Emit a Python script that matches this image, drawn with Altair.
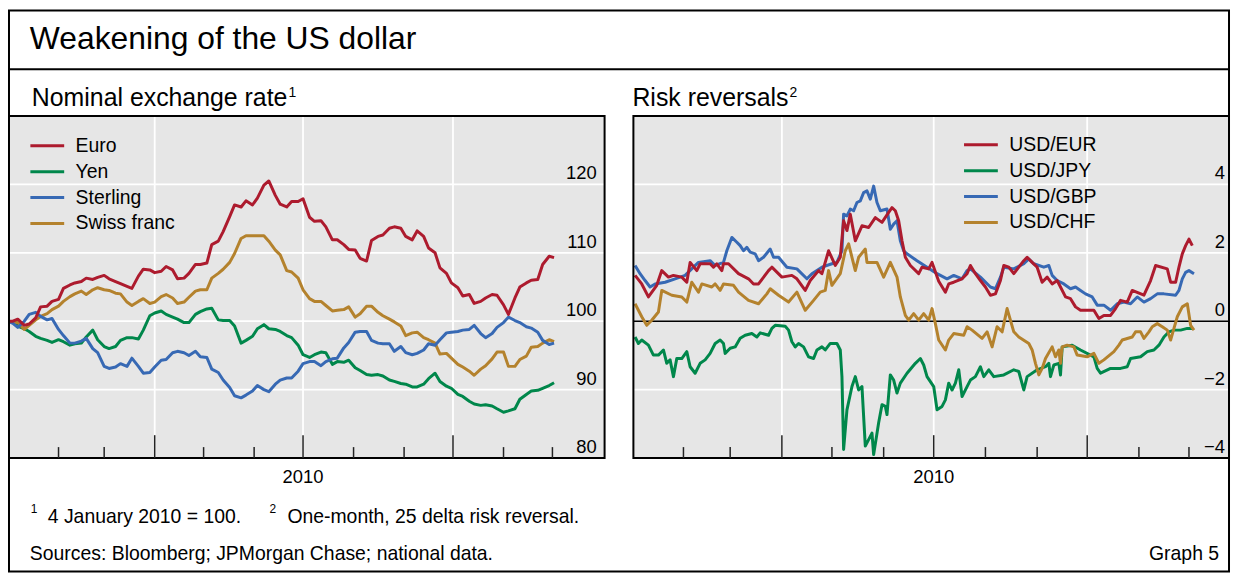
import altair as alt
import pandas as pd

# ======================= texts =======================
title_text = "Weakening of the US dollar"
left_title = "Nominal exchange rate"
right_title = "Risk reversals"
note1_mark = "1"
note1_text = "4 January 2010 = 100."
note2_mark = "2"
note2_text = "One-month, 25 delta risk reversal."
sources_text = "Sources: Bloomberg; JPMorgan Chase; national data."
graph_no = "Graph 5"

# ======================= categories / colours =======================
nominal_series = ["Euro", "Yen", "Sterling", "Swiss franc"]
risk_series = ["USD/EUR", "USD/JPY", "USD/GBP", "USD/CHF"]
series_colours = ["#ad1b2e", "#00874b", "#3769b4", "#b4822d"]

# ======================= axes =======================
nominal_ticks = [80, 90, 100, 110, 120]
nominal_grid = [90, 100, 110, 120]
risk_ticks = [-4, -2, 0, 2, 4]
risk_grid = [-2, 2, 4]
month_ticks = ["2010-02-01", "2010-03-01", "2010-05-01", "2010-06-01",
               "2010-08-01", "2010-09-01", "2010-11-01", "2010-12-01"]
quarter_ticks = ["2010-04-01", "2010-07-01", "2010-10-01"]
year_label_date = "2010-07-01"

# ======================= nominal exchange rates (4 Jan 2010 = 100) =======================
nominal_dates = [
    "2010-01-01", "2010-01-04", "2010-01-07", "2010-01-11", "2010-01-14", "2010-01-18",
    "2010-01-21", "2010-01-25", "2010-01-28",
    "2010-02-01", "2010-02-04", "2010-02-08", "2010-02-11", "2010-02-15", "2010-02-18",
    "2010-02-22", "2010-02-25",
    "2010-03-01", "2010-03-04", "2010-03-08", "2010-03-11", "2010-03-15", "2010-03-18",
    "2010-03-22", "2010-03-25", "2010-03-29",
    "2010-04-01", "2010-04-05", "2010-04-08", "2010-04-12", "2010-04-15", "2010-04-19",
    "2010-04-22", "2010-04-26", "2010-04-29",
    "2010-05-03", "2010-05-06", "2010-05-10", "2010-05-13", "2010-05-17", "2010-05-20",
    "2010-05-24", "2010-05-27", "2010-05-31",
    "2010-06-03", "2010-06-07", "2010-06-10", "2010-06-14", "2010-06-17", "2010-06-21",
    "2010-06-24", "2010-06-28",
    "2010-07-01", "2010-07-05", "2010-07-08", "2010-07-12", "2010-07-15", "2010-07-19",
    "2010-07-22", "2010-07-26", "2010-07-29",
    "2010-08-02", "2010-08-05", "2010-08-09", "2010-08-12", "2010-08-16", "2010-08-19",
    "2010-08-23", "2010-08-26", "2010-08-30",
    "2010-09-02", "2010-09-06", "2010-09-09", "2010-09-13", "2010-09-16", "2010-09-20",
    "2010-09-23", "2010-09-27", "2010-09-30",
    "2010-10-04", "2010-10-07", "2010-10-11", "2010-10-14", "2010-10-18", "2010-10-21",
    "2010-10-25", "2010-10-28",
    "2010-11-01", "2010-11-04", "2010-11-08", "2010-11-11", "2010-11-15", "2010-11-18",
    "2010-11-22", "2010-11-25", "2010-11-29",
    "2010-12-02"]
euro = [100.0, 100.0, 100.3, 99.4, 99.6, 100.5, 102.1, 102.2, 102.9,
        103.2, 104.8, 105.3, 105.6, 105.8, 106.3, 106.1, 106.4,
        106.7, 106.2, 105.8, 105.5, 105.1, 104.8, 106.6, 107.6, 107.5,
        107.1, 107.3, 108.0, 107.5, 106.2, 106.3, 107.0, 108.3, 108.3,
        108.5, 111.2, 111.7, 113.1, 115.3, 117.0, 116.7, 117.6, 117.0,
        118.0, 119.9, 120.5, 118.4, 117.1, 116.7, 117.5, 117.5,
        117.9, 115.2, 114.6, 114.7, 113.8, 111.9, 111.9, 111.2, 110.5,
        110.4, 109.2, 108.8, 111.8, 112.4, 112.6, 113.6, 113.8, 113.6,
        112.4, 111.9, 113.2, 112.4, 110.7, 110.0, 107.8, 107.0, 105.6,
        104.9, 103.7, 103.9, 102.6, 102.9, 103.4, 103.9, 103.8,
        102.4, 101.0, 103.4, 105.0, 105.6, 106.0, 106.1, 108.3, 109.5,
        109.3]
yen = [100.0, 99.9, 99.3, 98.9, 98.5, 97.8, 97.5, 97.2, 96.9,
       97.3, 97.0, 96.5, 96.7, 96.8, 97.7, 98.7, 97.3,
       96.3, 96.0, 96.3, 97.2, 97.6, 97.6, 97.4, 98.7, 100.8,
       101.2, 101.5, 101.0, 100.6, 100.3, 99.8, 99.8, 101.0, 101.4,
       101.8, 101.9, 100.2, 100.1, 100.1, 99.3, 96.8, 97.2, 97.8,
       98.9, 99.5, 98.9, 98.8, 98.5, 97.9, 97.6, 96.5,
       95.1, 94.7, 95.1, 95.5, 95.4, 93.7, 94.1, 94.0, 94.3,
       93.2, 92.8, 92.2, 92.1, 92.2, 92.0, 91.4, 91.2, 90.9,
       90.8, 90.4, 90.4, 90.8, 91.6, 92.4, 91.2, 90.5, 90.2,
       89.3, 89.0, 88.3, 87.9, 87.7, 87.8, 87.6, 87.2,
       86.7, 86.9, 87.2, 88.6, 89.3, 89.8, 89.9, 90.2, 90.6,
       91.0]
sterling = [100.0, 99.7, 99.1, 100.0, 101.0, 101.3, 100.7, 100.2, 100.4,
            98.8, 97.9, 96.8, 96.8, 97.1, 97.5, 96.0, 95.4,
            93.4, 93.1, 93.3, 93.8, 93.4, 94.6, 93.4, 92.4, 92.5,
            93.3, 94.3, 94.4, 95.4, 95.6, 95.4, 95.0, 95.6, 94.8,
            94.7, 93.0, 92.5, 91.4, 90.3, 89.1, 88.8, 89.2, 89.8,
            90.6, 90.0, 89.7, 90.8, 91.4, 91.7, 91.7, 92.7,
            93.8, 94.1, 94.1, 93.5, 94.1, 94.5, 94.6, 96.1, 96.9,
            98.4, 98.5, 98.5, 97.2, 96.8, 96.7, 96.7, 95.6, 96.3,
            95.4, 95.1, 95.3, 95.8, 96.7, 96.5, 97.3, 98.3, 98.4,
            98.5, 98.7, 98.8, 99.4, 98.2, 97.6, 98.2, 99.1,
            99.8, 100.6, 100.1, 99.8, 99.2, 99.0, 98.4, 97.2, 96.6,
            96.8]
swiss_franc = [100.0, 99.8, 99.8, 98.8, 99.4, 100.2, 100.7, 101.1, 101.7,
               102.2, 102.9, 103.6, 104.0, 104.4, 103.9, 104.6, 104.9,
               104.6, 104.5, 104.1, 104.0, 102.8, 102.3, 102.9, 103.3, 102.6,
               102.8, 103.6, 103.9, 103.4, 102.6, 102.8, 103.5, 104.4, 104.6,
               104.6, 106.3, 107.0, 107.6, 108.6, 109.9, 112.1, 112.5, 112.5,
               112.5, 112.5, 111.7, 110.4, 109.7, 107.4, 107.2, 106.3,
               104.6, 103.3, 102.9, 102.9, 102.3, 101.5, 101.6, 101.7, 102.1,
               100.6, 101.1, 102.2, 102.2, 101.3, 100.8, 100.3, 99.9, 99.3,
               97.9, 98.3, 98.4, 97.6, 97.3, 96.8, 95.2, 95.3, 94.6,
               93.7, 93.3, 92.7, 92.1, 93.0, 93.5, 94.5, 95.5,
               95.5, 93.4, 93.4, 94.4, 94.9, 96.2, 96.3, 96.8, 97.3,
               97.0]

# ======================= risk reversals (day = days after 1 Jan 2010) =======================
usd_eur_day = [2, 6, 10, 15, 18, 22, 25, 30, 33, 35,
               39, 41, 47, 49, 51, 54, 55, 58, 64, 70,
               73, 76, 82, 84, 90, 96, 99, 104, 107, 112,
               114, 118, 122, 125, 127, 129, 131, 134, 138, 142,
               146, 150, 154, 156, 158, 160, 162, 164, 167, 172,
               174, 178, 180, 184, 188, 190, 193, 198, 201, 203,
               206, 209, 212, 215, 218, 221, 223, 226, 229, 232,
               235, 237, 240, 243, 246, 249, 252, 255, 260, 263,
               266, 269, 273, 277, 280, 283, 287, 290, 293, 297,
               300, 307, 311, 314, 321, 323, 326, 328, 330, 332,
               334, 336]
usd_eur = [1.34, 1.09, 0.71, 1.05, 1.48, 1.29, 1.34, 1.29, 1.14, 1.72,
           1.48, 1.68, 1.68, 1.58, 1.68, 1.48, 1.68, 1.68, 1.39, 1.24,
           1.09, 1.09, 1.48, 1.58, 1.29, 1.34, 1.24, 0.90, 1.19, 1.48,
           1.39, 2.06, 1.63, 1.87, 2.94, 2.65, 3.13, 2.35, 2.79, 2.74,
           3.03, 2.89, 3.18, 3.32, 3.23, 2.94, 2.35, 1.87, 1.63, 1.39,
           1.58, 1.53, 1.72, 1.17, 0.85, 1.09, 1.14, 1.24, 1.39, 1.63,
           1.39, 1.19, 1.00, 0.76, 0.80, 1.19, 1.63, 1.58, 1.39, 1.58,
           1.77, 1.87, 1.72, 1.58, 1.14, 1.29, 1.09, 1.19, 0.71, 0.66,
           0.42, 0.32, 0.32, 0.32, 0.08, 0.17, 0.17, 0.37, 0.61, 0.56,
           0.90, 0.76, 1.19, 1.63, 1.53, 1.14, 1.14, 1.58, 1.97, 2.21,
           2.40, 2.21]

usd_gbp_day = [2, 5, 8, 11, 14, 20, 26, 32, 37, 40,
               47, 50, 55, 57, 60, 63, 65, 67, 69, 71,
               74, 76, 79, 83, 85, 88, 93, 99, 105, 108,
               114, 120, 123, 126, 127, 129, 131, 133, 135, 137,
               139, 141, 143, 145, 147, 149, 153, 155, 157, 159,
               161, 163, 165, 171, 177, 183, 189, 193, 198, 201,
               203, 209, 215, 218, 221, 223, 229, 235, 238, 241,
               247, 250, 252, 255, 259, 263, 266, 269, 272, 276,
               279, 283, 287, 291, 295, 299, 303, 307, 311, 315,
               319, 326, 328, 330, 332, 334, 337]
usd_gbp = [1.63, 1.39, 1.19, 1.00, 1.09, 1.14, 1.24, 1.34, 1.58, 1.72,
           1.77, 1.63, 1.72, 2.06, 2.45, 2.31, 2.21, 2.06, 2.16, 2.02,
           1.97, 1.77, 1.87, 2.11, 1.87, 1.87, 1.58, 1.53, 1.24, 1.39,
           1.58, 1.68, 1.72, 2.06, 3.13, 3.08, 3.28, 3.23, 3.47, 3.52,
           3.76, 3.81, 3.57, 3.95, 3.47, 3.23, 3.28, 2.69, 2.84, 2.94,
           2.35, 2.06, 1.97, 1.77, 1.58, 1.39, 1.24, 1.34, 1.24, 1.48,
           1.53, 1.29, 1.00, 0.95, 1.29, 1.58, 1.53, 1.68, 1.82, 1.68,
           1.58, 1.63, 1.34, 1.19, 1.09, 0.95, 1.00, 0.90, 0.80, 0.71,
           0.47, 0.47, 0.32, 0.51, 0.56, 0.51, 0.71, 0.56, 0.66, 0.80,
           0.80, 0.76, 0.90, 1.24, 1.43, 1.48, 1.39]

usd_chf_day = [2, 6, 9, 12, 16, 18, 24, 30, 33, 36,
               40, 42, 48, 50, 53, 55, 61, 64, 70, 76,
               81, 83, 88, 94, 99, 104, 109, 113, 116, 118,
               120, 125, 128, 130, 132, 134, 136, 140, 141, 147,
               151, 155, 159, 161, 164, 166, 169, 172, 175, 178,
               180, 182, 184, 188, 190, 193, 199, 201, 204, 210,
               213, 216, 219, 222, 225, 229, 232, 238, 240, 242,
               244, 246, 248, 252, 254, 256, 257, 258, 261, 265,
               267, 273, 277, 280, 283, 289, 292, 294, 300, 302,
               305, 307, 310, 312, 315, 318, 321, 323, 325, 327,
               330, 333, 335, 337]
usd_chf = [0.51, 0.13, -0.12, 0.03, 0.27, 0.90, 0.76, 0.71, 0.56, 1.14,
           0.85, 1.09, 1.00, 1.09, 0.90, 1.09, 1.05, 0.85, 0.61, 0.51,
           0.80, 0.95, 0.76, 0.56, 0.85, 0.32, 0.61, 0.85, 0.90, 1.48,
           1.05, 1.39, 2.06, 2.26, 1.87, 1.48, 1.87, 2.11, 1.72, 1.72,
           1.29, 1.72, 1.29, 0.71, 0.17, 0.03, 0.22, 0.03, 0.22, 0.03,
           0.37, -0.07, -0.55, -0.84, -0.55, -0.36, -0.41, -0.16, -0.26, -0.50,
           -0.31, -0.75, -0.16, -0.31, 0.37, -0.31, -0.46, -0.65, -0.84, -1.23,
           -1.57, -1.38, -1.09, -0.75, -1.04, -0.84, -1.23, -0.75, -0.70, -0.75,
           -0.99, -1.04, -0.94, -1.23, -1.13, -0.89, -0.70, -0.55, -0.46, -0.31,
           -0.31, -0.50, -0.31, -0.16, -0.07, -0.16, -0.26, -0.55, -0.21, 0.13,
           0.42, 0.51, -0.12, -0.26]

usd_jpy_day = [2, 4, 6, 10, 13, 16, 19, 21, 23, 25,
               27, 30, 33, 35, 38, 41, 44, 47, 50, 53,
               55, 56, 59, 62, 65, 68, 72, 75, 77, 82,
               84, 86, 92, 94, 96, 98, 100, 103, 106, 109,
               111, 114, 116, 119, 123, 125, 126, 127, 129, 132,
               134, 136, 138, 140, 142, 144, 145, 148, 150, 152,
               153, 155, 157, 159, 161, 165, 170, 173, 175, 177,
               181, 183, 186, 188, 190, 192, 194, 196, 198, 201,
               203, 206, 209, 211, 214, 217, 223, 229, 232, 235,
               237, 243, 248, 250, 251, 253, 256, 257, 258, 264,
               269, 277, 279, 281, 287, 293, 297, 299, 305, 309,
               313, 316, 319, 322, 325, 329, 333, 336]
usd_jpy = [-0.46, -0.65, -0.55, -0.70, -0.99, -0.99, -0.84, -1.23, -1.13, -1.62,
           -1.09, -1.09, -0.89, -1.33, -1.52, -1.23, -1.13, -0.94, -0.65, -0.55,
           -0.65, -0.94, -0.79, -0.75, -0.50, -0.41, -0.36, -0.46, -0.34, -0.41,
           -0.21, -0.12, -0.15, -0.26, -0.60, -0.75, -0.65, -0.75, -1.04, -1.09,
           -0.84, -0.75, -0.84, -0.65, -0.65, -0.84, -1.62, -3.75, -2.59, -1.91,
           -1.62, -2.01, -1.91, -3.65, -3.46, -3.27, -3.90, -2.97, -2.44, -2.49,
           -2.73, -1.57, -1.72, -2.10, -1.81, -1.52, -1.23, -1.09, -1.28, -1.62,
           -1.91, -2.59, -2.49, -2.30, -1.81, -2.01, -1.81, -1.42, -2.20, -1.91,
           -1.72, -1.62, -1.33, -1.62, -1.42, -1.62, -1.57, -1.42, -1.47, -2.01,
           -1.62, -1.42, -1.33, -1.23, -1.62, -1.28, -1.23, -1.57, -0.75, -0.70,
           -0.84, -1.04, -1.38, -1.52, -1.38, -1.38, -1.33, -1.09, -1.04, -0.89,
           -0.84, -0.70, -0.46, -0.31, -0.26, -0.26, -0.21, -0.21]

# ======================= styling =======================
FONT = "Liberation Sans"
W, H = 1230, 566
TOP, BOTTOM = 107, 451
PANEL_BG = "#e6e6e6"
TICK_COLOUR = "#222222"


def utc_date(s):
    y, m, d = (int(p) for p in s.split("-"))
    return alt.DateTime(year=y, month=m, date=d, utc=True)


def days_to_iso(days):
    base = pd.Timestamp("2010-01-01")
    return [(base + pd.Timedelta(days=int(d))).strftime("%Y-%m-%d") for d in days]


def tick_text(v):
    return str(v).replace("-", "\u2212")


nominal_df = pd.concat(
    [pd.DataFrame({"date": nominal_dates, "value": vals, "series": name})
     for name, vals in zip(nominal_series, [euro, yen, sterling, swiss_franc])],
    ignore_index=True)

risk_df = pd.concat(
    [pd.DataFrame({"date": days_to_iso(days), "value": vals, "series": name})
     for name, days, vals in zip(risk_series,
                                 [usd_eur_day, usd_jpy_day, usd_gbp_day, usd_chf_day],
                                 [usd_eur, usd_jpy, usd_gbp, usd_chf])],
    ignore_index=True)

one_row = pd.DataFrame({"k": [0]})


def build_panel(df, names, draw_order, x_start, x_bg_start, x_end, x_range,
                y_domain, tick_values, grid_levels, label_right, legend_xy, zero_line):
    xs = alt.Scale(type="utc", domain=[utc_date(x_start), utc_date(x_end)], range=x_range)
    ys = alt.Scale(type="linear", domain=y_domain, range=[BOTTOM, TOP], nice=False, zero=False)
    cs = alt.Scale(domain=names, range=series_colours)

    x_lo = alt.XDatum(utc_date(x_bg_start), type="temporal", scale=xs, axis=None)
    x_hi = alt.X2Datum(utc_date(x_end))
    y_lo = alt.YDatum(y_domain[0], type="quantitative", scale=ys, axis=None)
    y_hi = alt.Y2Datum(y_domain[1])

    legend = alt.Legend(title=None, orient="none", legendX=legend_xy[0], legendY=legend_xy[1],
                        symbolType="stroke", symbolSize=1156, symbolStrokeWidth=3,
                        clipHeight=20, rowPadding=6, labelOffset=10, padding=0,
                        labelFontSize=19.5, labelColor="black", labelFont=FONT)

    layers = []
    layers.append(alt.Chart(one_row).mark_rect(fill=PANEL_BG)
                  .encode(x=x_lo, x2=x_hi, y=y_lo, y2=y_hi))
    layers.append(alt.Chart(pd.DataFrame({"level": grid_levels}))
                  .mark_rule(color="white", strokeWidth=1.8)
                  .encode(y=alt.Y("level:Q", scale=ys, axis=None), x=x_lo, x2=x_hi))
    layers.append(alt.Chart(pd.DataFrame({"month": quarter_ticks}))
                  .mark_rule(color="white", strokeWidth=1.8)
                  .encode(x=alt.X("month:T", scale=xs, axis=None), y=y_lo, y2=y_hi))
    if zero_line:
        layers.append(alt.Chart(pd.DataFrame({"level": [0]}))
                      .mark_rule(color="black", strokeWidth=1.5)
                      .encode(y=alt.Y("level:Q", scale=ys, axis=None), x=x_lo, x2=x_hi))
    for name in draw_order:
        layers.append(
            alt.Chart(df).transform_filter(alt.datum.series == name)
            .mark_line(strokeWidth=3, strokeJoin="round")
            .encode(x=alt.X("date:T", scale=xs, axis=None),
                    y=alt.Y("value:Q", scale=ys, axis=None),
                    color=alt.Color("series:N", scale=cs, legend=legend)))
    layers.append(alt.Chart(one_row)
                  .mark_rect(fill="transparent", stroke="black", strokeWidth=2)
                  .encode(x=x_lo, x2=x_hi, y=y_lo, y2=y_hi))
    layers.append(alt.Chart(pd.DataFrame({"tick": month_ticks}))
                  .mark_rule(color=TICK_COLOUR, strokeWidth=1.5)
                  .encode(x=alt.X("tick:T", scale=xs, axis=None),
                          y=alt.value(BOTTOM), y2=alt.value(BOTTOM - 11)))
    layers.append(alt.Chart(pd.DataFrame({"tick": quarter_ticks}))
                  .mark_rule(color=TICK_COLOUR, strokeWidth=1.5)
                  .encode(x=alt.X("tick:T", scale=xs, axis=None),
                          y=alt.value(BOTTOM), y2=alt.value(BOTTOM - 23)))
    # value-axis labels (inside the plot, right-aligned, sitting on their grid line)
    layers.append(alt.Chart(pd.DataFrame({"level": tick_values,
                                          "txt": [tick_text(v) for v in tick_values]}))
                  .mark_text(align="right", baseline="alphabetic", dy=-5, fontSize=18.5,
                             color="black", font=FONT)
                  .encode(y=alt.Y("level:Q", scale=ys, axis=None),
                          x=alt.value(label_right), text="txt:N"))
    # year label under the time axis
    layers.append(alt.Chart(pd.DataFrame({"d": [year_label_date],
                                          "txt": [year_label_date[:4]]}))
                  .mark_text(align="center", baseline="alphabetic", fontSize=18.5,
                             color="black", font=FONT)
                  .encode(x=alt.X("d:T", scale=xs, axis=None),
                          y=alt.value(BOTTOM + 25), text="txt:N"))
    return alt.layer(*layers)


left_panel = build_panel(nominal_df, nominal_series, ["Yen", "Swiss franc", "Sterling", "Euro"],
                         "2010-01-01", "2010-01-01", "2011-01-02", [0, 600],
                         [80, 130], nominal_ticks, nominal_grid, 592, (21, 127), False)
right_panel = build_panel(risk_df, risk_series, ["USD/JPY", "USD/GBP", "USD/CHF", "USD/EUR"],
                          "2010-01-01", "2010-01-02", "2010-12-25", [627.3, 1228],
                          [-4, 6], risk_ticks, risk_grid, 1224, (960, 126), True)


def label(txt, x, y, size, align="left"):
    return (alt.Chart(one_row)
            .mark_text(text=txt, fontSize=size, align=align, baseline="alphabetic",
                       color="black", font=FONT)
            .encode(x=alt.value(x), y=alt.value(y)))


frame = (alt.Chart(one_row).mark_rect(fill="transparent", stroke="black", strokeWidth=2)
         .encode(x=alt.value(1), x2=alt.value(W - 2), y=alt.value(1), y2=alt.value(H - 1)))
separator = (alt.Chart(one_row).mark_rule(color="black", strokeWidth=2)
             .encode(x=alt.value(0), x2=alt.value(W - 2), y=alt.value(60)))

texts = [
    label(title_text, 22, 40, 32),
    label(left_title, 24, 97, 25),
    label(note1_mark, 282, 88, 14),
    label(right_title, 628, 97, 25),
    label(note2_mark, 786, 88, 14),
    label(note1_mark, 23, 506, 12),
    label(note1_text, 40, 516, 19.5),
    label(note2_mark, 263, 506, 12),
    label(note2_text, 281, 516, 19.5),
    label(sources_text, 22, 554, 19.5),
    label(graph_no, 1218, 554, 19.5, align="right"),
]

chart = (alt.layer(left_panel, right_panel, separator, frame, *texts)
         .resolve_scale(x="independent", y="independent", color="independent")
         .properties(width=W, height=H, padding=0, background="white",
                     autosize=alt.AutoSizeParams(type="none"))
         .configure(font=FONT)
         .configure_view(strokeWidth=0))

chart.save("out.html", embed_options={"renderer": "svg", "actions": False})
